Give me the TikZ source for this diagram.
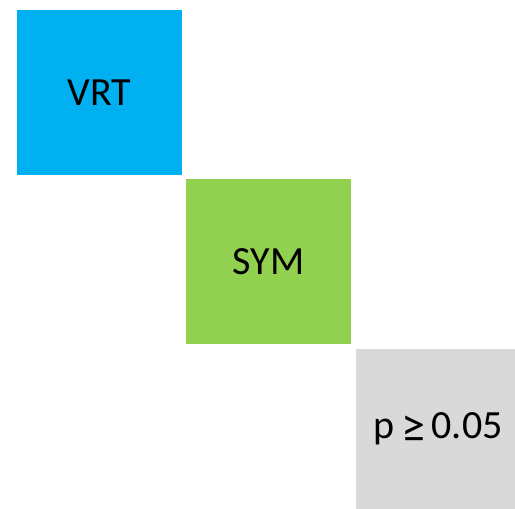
\documentclass[tikz,border=0pt]{standalone}
\usepackage{fontspec}
\setmainfont{Carlito}
\definecolor{vrtblue}{HTML}{00B0F0}
\definecolor{symgreen}{HTML}{92D050}
\definecolor{pgray}{HTML}{D9D9D9}
\begin{document}
\begin{tikzpicture}[x=1pt,y=-1pt,
  tile/.style={draw=none,inner sep=0pt,font=\fontsize{40}{48}\selectfont,text=black}]
\useasboundingbox (0,0) rectangle (515,509);
% coloured tiles on a diagonal
\fill[vrtblue] (17,10) rectangle (182,175);
\fill[symgreen] (186,179) rectangle (351,344);
\fill[pgray] (356,349) rectangle (515,509);
\node[tile] (vrt) at (99.5,92.5) {VRT};
\node[tile] (sym) at (268.5,261.5) {SYM};
\node[tile] (pval) at (438,429) {p\,\raisebox{-4pt}{\fontsize{48}{56}\selectfont ≥}\,0.05};
\end{tikzpicture}
\end{document}
